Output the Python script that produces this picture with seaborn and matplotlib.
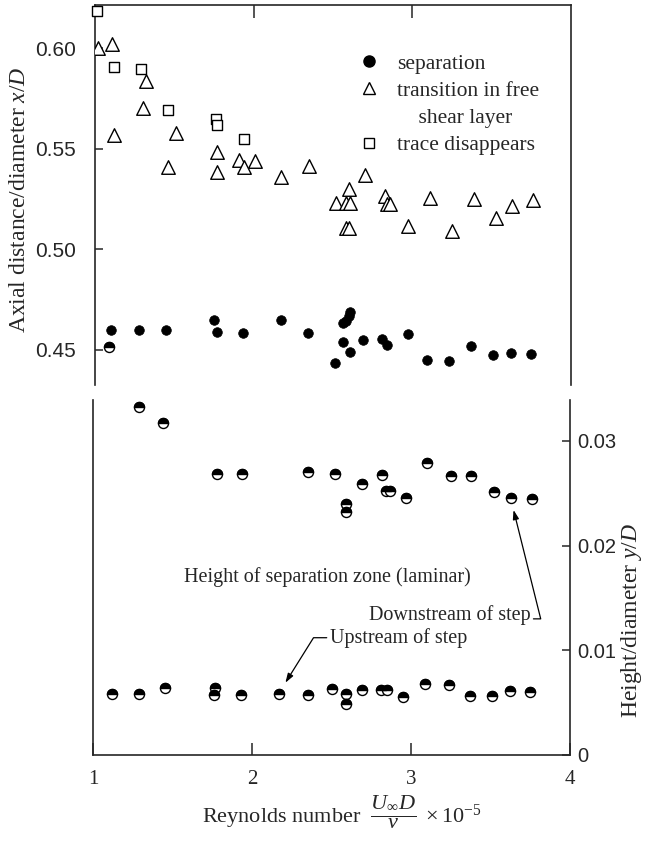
import numpy as np
import pandas as pd
import matplotlib
matplotlib.use("Agg")
import matplotlib.pyplot as plt
from matplotlib.markers import MarkerStyle
from matplotlib.lines import Line2D
import seaborn as sns

# ---------------- data ----------------
sep_x = [1.10, 1.28, 1.45, 1.75, 1.77, 1.93, 2.17, 2.34, 2.51, 2.56, 2.61, 2.56, 2.58, 2.60,
         2.61, 2.69, 2.81, 2.84, 2.97, 3.09, 3.23, 3.37, 3.51, 3.62, 3.75]
sep_y = [0.4597, 0.4597, 0.4597, 0.4648, 0.4589, 0.4583, 0.4648, 0.4582, 0.4435, 0.4538,
         0.4488, 0.4632, 0.4645, 0.4670, 0.4690, 0.4552, 0.4557, 0.4527, 0.4577, 0.4452,
         0.4443, 0.4522, 0.4473, 0.4485, 0.4480]

trans_x = [1.02, 1.11, 1.32, 1.30, 1.12, 1.51, 1.46, 1.77, 1.77, 1.91, 1.94, 2.01, 2.17, 2.35,
           2.60, 2.52, 2.58, 2.61, 2.58, 2.60, 2.70, 2.83, 2.84, 2.86, 2.97, 3.11, 3.25, 3.39,
           3.53, 3.63, 3.76]
trans_y = [0.600, 0.602, 0.5837, 0.570, 0.557, 0.5577, 0.541, 0.5485, 0.5385, 0.5443, 0.541,
           0.5437, 0.536, 0.5413, 0.5298, 0.5228, 0.5228, 0.5228, 0.5107, 0.5107, 0.5368,
           0.5265, 0.5223, 0.5223, 0.5115, 0.5253, 0.509, 0.5252, 0.5155, 0.5213, 0.5247]

trace_x = [1.01, 1.12, 1.29, 1.46, 1.76, 1.77, 1.94]
trace_y = [0.6185, 0.5907, 0.5895, 0.5693, 0.5648, 0.5617, 0.555]

down_x = [1.10, 1.29, 1.44, 1.78, 1.94, 2.35, 2.52, 2.59, 2.59, 2.69, 2.82, 2.84, 2.87, 2.97,
          3.10, 3.25, 3.38, 3.52, 3.63, 3.76]
down_y = [0.0390, 0.0332, 0.0317, 0.0268, 0.0268, 0.0270, 0.0268, 0.0240, 0.0232, 0.0259,
          0.0267, 0.0252, 0.0252, 0.0245, 0.0279, 0.0266, 0.0266, 0.0251, 0.0245, 0.0244]

up_x = [1.12, 1.29, 1.45, 1.77, 1.76, 1.93, 2.17, 2.35, 2.50, 2.59, 2.59, 2.69, 2.81, 2.85,
        2.95, 3.09, 3.24, 3.37, 3.51, 3.62, 3.75]
up_y = [0.0058, 0.0058, 0.0064, 0.0064, 0.0057, 0.0057, 0.0058, 0.0057, 0.0063, 0.0058,
        0.0049, 0.0062, 0.0062, 0.0062, 0.0055, 0.0068, 0.0067, 0.0056, 0.0056, 0.0061, 0.0060]

x_ticks = [1, 2, 3, 4]
x_ticklabels = ["1", "2", "3", "4"]
top_yticks = [0.45, 0.50, 0.55, 0.60]
top_yticklabels = ["0.45", "0.50", "0.55", "0.60"]
low_yticks = [0, 0.01, 0.02, 0.03]
low_yticklabels = ["0", "0.01", "0.02", "0.03"]

legend_labels = ["separation", "transition in free", "    shear layer", "trace disappears"]

# ---------------- style ----------------
sns.set_style("ticks")
SERIF = "Liberation Serif"
SANS = "Liberation Sans"
plt.rcParams["font.family"] = [SERIF, "DejaVu Serif"]
plt.rcParams["mathtext.fontset"] = "custom"
plt.rcParams["mathtext.rm"] = SERIF
plt.rcParams["mathtext.it"] = SERIF + ":italic"
plt.rcParams["mathtext.bf"] = SERIF + ":bold"
plt.rcParams["axes.linewidth"] = 1.2

W, H = 649, 842
fig = plt.figure(figsize=(W / 100, H / 100), dpi=100)

def box(l, t, r, b):
    return [l / W, 1 - b / H, (r - l) / W, (b - t) / H]

ax_top = fig.add_axes(box(95, 5, 571, 385))
ax_low = fig.add_axes(box(93, 400, 570, 755))
for a in (ax_top, ax_low):
    a.set_facecolor("white")

# ---------------- top panel ----------------
df_sep = pd.DataFrame({"Re": sep_x, "xD": sep_y})
df_tr = pd.DataFrame({"Re": trans_x, "xD": trans_y})
df_tc = pd.DataFrame({"Re": trace_x, "xD": trace_y})

sns.scatterplot(data=df_sep, x="Re", y="xD", ax=ax_top, marker="o", s=48,
                color="black", edgecolor="black", linewidth=0.5, zorder=3)
sns.scatterplot(data=df_tr, x="Re", y="xD", ax=ax_top, marker="^", s=95,
                facecolor="white", edgecolor="black", linewidth=1.0, zorder=3)
sns.scatterplot(data=df_tc, x="Re", y="xD", ax=ax_top, marker="s", s=50,
                facecolor="white", edgecolor="black", linewidth=1.0, zorder=4, clip_on=False)

ax_top.set_xlim(1, 4)
ax_top.set_ylim(0.4326, 0.6214)
ax_top.spines["bottom"].set_visible(False)
ax_top.spines["top"].set_visible(True)
ax_top.spines["right"].set_visible(True)
ax_top.xaxis.set_ticks_position("top")
ax_top.set_xticks([2, 3])
ax_top.set_xticklabels([])
ax_top.tick_params(axis="x", direction="in", length=9, width=1.1, top=True, bottom=False)
ax_top.set_yticks(top_yticks)
ax_top.set_yticklabels(top_yticklabels, fontfamily=SANS, fontsize=15)
ax_top.tick_params(axis="y", direction="in", length=6, width=1.1, pad=14, right=False)
ax_top.set_xlabel("")
ax_top.set_ylabel("")

handles = [
    Line2D([], [], linestyle="", marker="o", markersize=8, color="black"),
    Line2D([], [], linestyle="", marker="^", markersize=8, markerfacecolor="white",
           markeredgecolor="black", markeredgewidth=1.0),
    Line2D([], [], linestyle="", marker=""),
    Line2D([], [], linestyle="", marker="s", markersize=6.5, markerfacecolor="white",
           markeredgecolor="black", markeredgewidth=1.0),
]
leg = ax_top.legend(handles, legend_labels, loc="upper left",
                    bbox_to_anchor=(0.553, 0.872), frameon=False, fontsize=15.5,
                    handlelength=1.0, handletextpad=0.8, borderpad=0, labelspacing=0.33,
                    borderaxespad=0)

# ---------------- lower panel ----------------
df_down = pd.DataFrame({"Re": down_x, "yD": down_y})
df_up = pd.DataFrame({"Re": up_x, "yD": up_y})
half = MarkerStyle("o", fillstyle="top")
for d in (df_down, df_up):
    sns.scatterplot(data=d, x="Re", y="yD", ax=ax_low, marker="o", s=52,
                    facecolor="white", edgecolor="black", linewidth=1.0, zorder=3, clip_on=False)
    sns.scatterplot(data=d, x="Re", y="yD", ax=ax_low, marker=half, s=52,
                    color="black", edgecolor="black", linewidth=1.0, zorder=4, clip_on=False)

ax_low.set_xlim(1, 4)
ax_low.set_ylim(0, 0.0339)
ax_low.spines["top"].set_visible(False)
ax_low.spines["right"].set_visible(True)
ax_low.set_xticks(x_ticks)
ax_low.set_xticklabels(x_ticklabels, fontsize=15)
ax_low.tick_params(axis="x", direction="in", length=9, width=1.1, pad=11)
ax_low.yaxis.set_ticks_position("right")
ax_low.set_yticks(low_yticks)
ax_low.set_yticklabels(low_yticklabels, fontfamily=SANS, fontsize=14.5)
ax_low.tick_params(axis="y", direction="in", length=6, width=1.1, pad=5, left=False, right=True)
ax_low.set_xlabel("")
ax_low.set_ylabel("")

ax_low.text(1.57, 0.0170, "Height of separation zone (laminar)", fontsize=14.5,
            ha="left", va="center")
ax_low.text(3.75, 0.0134, "Downstream of step", fontsize=14.5, ha="right", va="center")
ax_low.text(2.49, 0.0112, "Upstream of step", fontsize=14.5, ha="left", va="center")

arrow_kw = dict(arrowstyle="-|>,head_length=0.55,head_width=0.18", color="black", lw=0.9,
                shrinkA=0, shrinkB=0)
ax_low.annotate("", xy=(3.645, 0.0234), xytext=(3.77, 0.0130),
                arrowprops=dict(connectionstyle="angle,angleA=0,angleB=-76,rad=0", **arrow_kw))
ax_low.annotate("", xy=(2.21, 0.0069), xytext=(2.47, 0.0112),
                arrowprops=dict(connectionstyle="angle,angleA=0,angleB=58,rad=0", **arrow_kw))

# ---------------- axis titles ----------------
fig.text(20 / W, 1 - 200 / H, "Axial distance/diameter $x/D$", rotation=90,
         ha="center", va="center", fontsize=17)
fig.text(631 / W, 1 - 620 / H, "Height/diameter $y/D$", rotation=90,
         ha="center", va="center", fontsize=17)
fig.text(202 / W, 1 - 822 / H,
         r"Reynolds number $\ \dfrac{U_{\infty}D}{\nu}\ \times10^{-5}$",
         ha="left", va="baseline", fontsize=16)

fig.savefig("out.png", dpi=100, facecolor="white")
